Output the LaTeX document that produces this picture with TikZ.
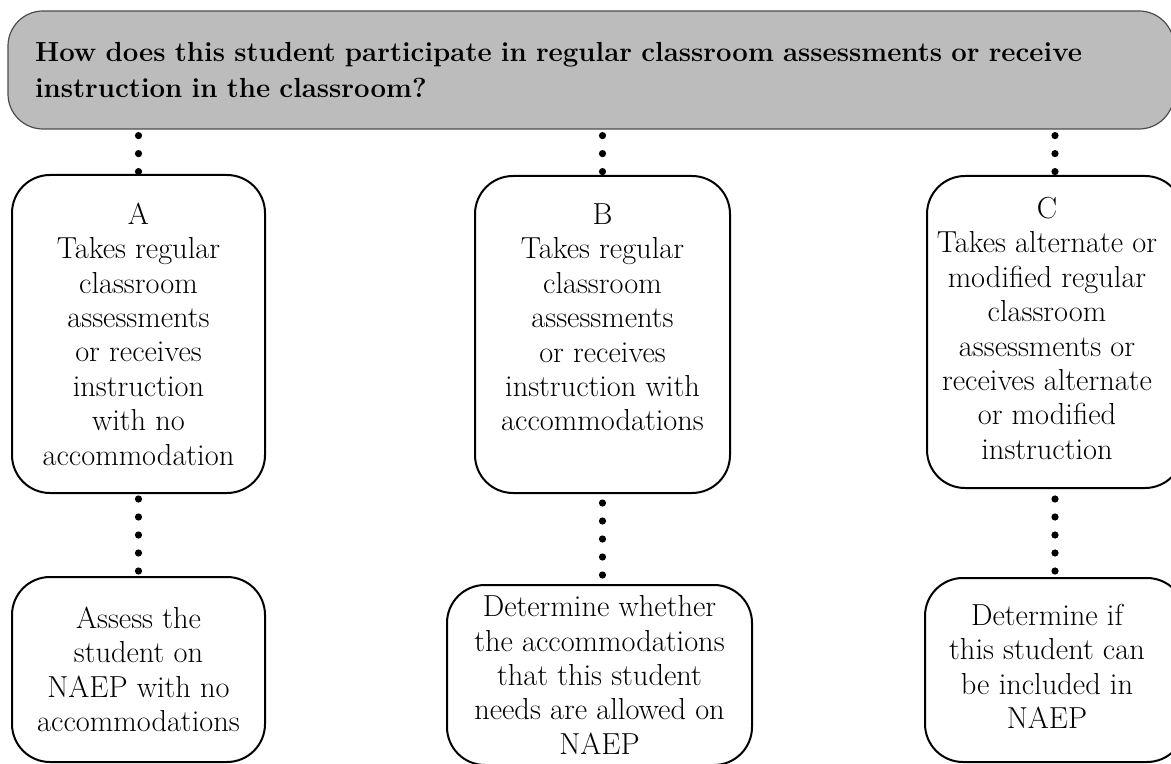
\documentclass[tikz,border=0pt]{standalone}
\usepackage{fontspec}
\usetikzlibrary{positioning}
\definecolor{qgray}{HTML}{BCBCBC}
\tikzset{
  question/.style={draw=black!70, fill=qgray, line width=0.6pt, rounded corners=17.5pt,
    minimum width=583pt, minimum height=59pt, text width=556pt, inner xsep=13.5pt,
    align=left, font=\fontsize{13.8}{18}\selectfont\bfseries},
  choice/.style={draw=black, line width=1pt, rounded corners=19pt, inner sep=0pt,
    align=center, font=\fontsize{15.2}{17.2}\selectfont},
  dots/.style={line width=3.6pt, line cap=round, dash pattern=on 0pt off 9pt},
}
\begin{document}
\begin{tikzpicture}[x=0.5pt, y=-0.5pt]
			\useasboundingbox (0,0) rectangle (1171,764);
			\clip (0,0) rectangle (1171,764);
			
			% Question on top
			\node[question] (q) at (591,70) {How does this student participate in regular classroom assessments or receive\\ instruction in the classroom?};
			
			% Three answers
			\node[choice, minimum width=126.5pt, minimum height=159pt] (a) at (138.5,334)
				{A\\Takes regular\\classroom\\assessments\\or receives\\instruction\\with no\\accommodation};
			\node[choice, minimum width=127.5pt, minimum height=158.5pt] (b) at (602.5,334.5)
				{B\\Takes regular\\classroom\\assessments\\or receives\\instruction with\\accommodations\\\mbox{}};
			\node[choice, minimum width=128pt, minimum height=156pt] (c) at (1055,332)
				{\begin{tabular}{@{}c@{\hspace{8pt}}}C\\Takes alternate or\\modified regular\\classroom\\assessments or\\receives alternate\\or modified\\instruction\end{tabular}};
			
			% What to do on NAEP
			\node[choice, minimum width=126.5pt, minimum height=92.5pt] (aa) at (138.5,669.5)
				{Assess the\\student on\\NAEP with no\\accommodations};
			\node[choice, minimum width=152.5pt, minimum height=90pt] (bb) at (599.5,675)
				{Determine whether\\the accommodations\\that this student\\needs are allowed on\\NAEP};
			\node[choice, minimum width=130pt, minimum height=92pt] (cc) at (1055,670)
				{\begin{tabular}{@{}c@{\hspace{8pt}}}Determine if\\this student can\\be included in\\NAEP\end{tabular}};
			
			% Dotted connectors
			\draw[dots, shorten <=3pt, shorten >=0.5pt] (q.south -| a.north) -- (a.north);
			\draw[dots, shorten <=3pt, shorten >=1pt] (q.south -| b.north) -- (b.north);
			\draw[dots, shorten <=3pt, shorten >=1pt] (q.south -| c.north) -- (c.north);
			\draw[dots, shorten <=2.5pt, shorten >=1.5pt] (a.south) -- (a.south |- aa.north);
			\draw[dots, shorten <=4.5pt, shorten >=3.5pt] (b.south) -- (b.south |- bb.north);
			\draw[dots, shorten <=5pt, shorten >=2pt] (c.south) -- (c.south |- cc.north);
		\end{tikzpicture}
\end{document}
